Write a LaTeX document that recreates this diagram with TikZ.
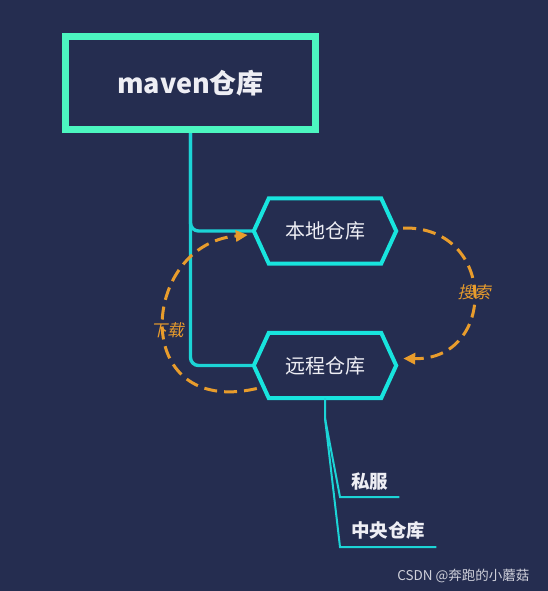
\documentclass[tikz,border=0pt]{standalone}
\usepackage{fontspec}
\setmainfont{Noto Sans CJK SC}
\newfontfamily\slantcjk[FakeSlant=0.22]{Noto Sans CJK SC}
\usepackage{tikz}
\usetikzlibrary{arrows.meta, positioning, calc}
\definecolor{bgnavy}{RGB}{37, 45, 80}
\definecolor{rootmint}{RGB}{76, 246, 192}
\definecolor{hexcyan}{RGB}{24, 228, 222}
\definecolor{linecyan}{RGB}{28, 212, 214}
\definecolor{flowamber}{RGB}{232, 156, 44}
\definecolor{softwhite}{RGB}{238, 238, 244}

\begin{document}
\begin{tikzpicture}[
  x=1pt, y=-1pt,
  rootbox/.style={draw=rootmint, line width=7pt, fill=bgnavy, minimum width=250pt, minimum height=93pt, text=softwhite, font=\fontsize{27}{31}\selectfont\bfseries},
  hexnode/.style={minimum width=142pt, minimum height=65pt, inner sep=0pt, text=softwhite, font=\fontsize{20}{24}\selectfont},
  hexborder/.style={draw=hexcyan, line width=4pt, line join=miter},
  trunk/.style={draw=linecyan, line width=3.4pt, rounded corners=8pt},
  twig/.style={draw=linecyan, line width=2pt},
  leaf/.style={anchor=south west, inner xsep=11pt, inner ysep=7pt, text=softwhite, font=\fontsize{18.5}{22}\selectfont\bfseries},
  flow/.style={draw=flowamber, line width=3pt, dash pattern=on 13pt off 7pt, -{Triangle[length=12pt, width=11pt]}},
  flowlabel/.style={text=flowamber, font=\fontsize{16.5}{19}\selectfont\slantcjk}
]
  \useasboundingbox (0,0) rectangle (548,591);
  \fill[bgnavy] (0,0) rectangle (548,591);

  % Root and trunk
  \node[rootbox] (root) at (190.5, 83) {maven仓库};
  \node[hexnode] (local) at (325, 231) {本地仓库};
  \node[hexnode] (remote) at (325, 365.5) {远程仓库};
  \draw[trunk] (root.south) |- (local.west);
  \draw[trunk] (root.south) |- (remote.west);

  % Hexagon borders
  \foreach \n in {local, remote} {
    \draw[hexborder] (\n.west) -- ([xshift=15pt]\n.north west) -- ([xshift=-15pt]\n.north east)
      -- (\n.east) -- ([xshift=-15pt]\n.south east) -- ([xshift=15pt]\n.south west) -- cycle;
  }

  % Remote children
  \coordinate (fork) at ([yshift=-20pt]remote.south);
  \node[leaf] (private) at (340, 497) {私服};
  \node[leaf] (central) at (340, 547) {中央仓库};
  \draw[twig] (remote.south) -- (fork) -- (private.south west) -- (private.south east);
  \draw[twig] (fork) -- (central.south west) -- (central.south east);

  % Search and download
  \draw[flow] ([xshift=7pt, yshift=3pt]local.east) .. controls (497, 226) and (497, 360) .. ([xshift=7pt, yshift=7pt]remote.east);
  \node[flowlabel] (search) at (474, 292) {搜索};
  \draw[flow] ([xshift=3pt, yshift=-23pt]remote.west) .. controls (128, 418) and (140, 244) .. ([xshift=-6pt, yshift=-4pt]local.west);
  \node[flowlabel] (fetch) at (167, 330) {下载};

  % Watermark
  \node[anchor=east, text=softwhite!85!bgnavy, font=\fontsize{13.5}{16}\selectfont] (mark) at (533, 576) {CSDN @奔跑的小蘑菇};
\end{tikzpicture}
\end{document}
